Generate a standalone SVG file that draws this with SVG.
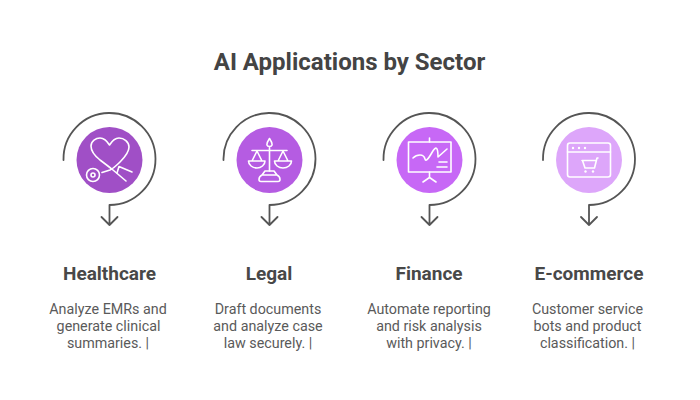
<svg xmlns="http://www.w3.org/2000/svg" width="700" height="400" viewBox="0 0 700 400">
<style>
text{font-family:Roboto,"Liberation Sans",sans-serif;text-anchor:middle}
.t{font-size:24px;font-weight:700;fill:#444}
.h{font-size:19px;font-weight:700;fill:#484848}
.d{font-size:14.300px;fill:#5a5a5a}
.c{fill:none;stroke:#555;stroke-width:1.800;stroke-linecap:round;stroke-linejoin:round}
.i{fill:none;stroke:#fff;stroke-width:1.600;stroke-linecap:round;stroke-linejoin:round}
</style>
<defs>
<g id="spiral"><path class="c" d="M-46 0A46 46 0 1 1 0 45V65M-8 57L0 65L8 57"/></g>
</defs>
<rect width="700" height="400" fill="#fff"/>
<text class="t" x="349.500" y="70">AI Applications by Sector</text>
<g id="connectors">
<use href="#spiral" x="109.500" y="160"/>
<use href="#spiral" x="269.500" y="160"/>
<use href="#spiral" x="429.500" y="160"/>
<use href="#spiral" x="589" y="160"/>
</g>
<g id="healthcare">
<circle cx="109.500" cy="160" r="33" fill="#A04FC6"/>
<path class="i" d="M126 181L113 170C108 166 104 163 100 160C95 156 91 151 91 146C91 141 96 138 100 138C104 138 107 141 109.500 145C112 141 115 138 119 138C124 138 129 142 129 147C129 153 124 158 120 162C117 165 114 168 110 170L102 172.500"/>
<path class="i" d="M117 173L119 166.500L132 172"/>
<circle class="i" cx="93" cy="175" r="6.500"/>
<circle class="i" cx="93" cy="175" r="2"/>
<text class="h" x="109.500" y="280">Healthcare</text>
<text class="d" x="108" y="314">Analyze EMRs and</text>
<text class="d" x="108.500" y="331">generate clinical</text>
<text class="d" x="108" y="348">summaries. |</text>
</g>
<g id="legal">
<circle cx="269.500" cy="160" r="33" fill="#B55CE2"/>
<path class="i" d="M269.500 147V171M252 150.500H287M269.500 138.500C267.500 141.500 266.500 143 267 145C267.500 147 271.500 147 272 145C272.500 143 271.500 141.500 269.500 138.500Z"/>
<path class="i" d="M257 151L252 161M257 151L262 161M283 151L278 161M283 151L288 161M248.500 161H265C265 165 261 168 257 168C252.500 168 248.500 165 248.500 161ZM274.500 161H291.500C291.500 165 287.500 168 283 168C278.500 168 274.500 165 274.500 161Z"/>
<path class="i" d="M265 171H274L277 175C279 176 280 178 280 179.500C280 181 279 181.500 278 181.500H261C260 181.500 259 181 259 179.500C259 178 260 176 262 175ZM262 175H277"/>
<text class="h" x="269" y="280">Legal</text>
<text class="d" x="268" y="314">Draft documents</text>
<text class="d" x="268" y="331">and analyze case</text>
<text class="d" x="268" y="348">law securely. |</text>
</g>
<g id="finance">
<circle cx="429.500" cy="160" r="33" fill="#C768F6"/>
<rect class="i" x="408.500" y="142" width="42.500" height="30"/>
<path class="i" d="M429.500 138V142M429.500 172V178M423 182L429.500 177.500L436 182M413 158Q416 155 420 155T425 159T432 152.500T438 157L447 149M439 162H447M437 167H447"/>
<text class="h" x="429" y="280">Finance</text>
<text class="d" x="429" y="314">Automate reporting</text>
<text class="d" x="429" y="331">and risk analysis</text>
<text class="d" x="429" y="348">with privacy. |</text>
</g>
<g id="ecommerce">
<circle cx="589" cy="160" r="33" fill="#DDA6FA"/>
<rect class="i" x="567.500" y="143" width="43" height="34" rx="2.500"/>
<path class="i" d="M567.500 152H610.500M582 160.500H595.500M582.500 160.500L585 168H594.500L597 158H598"/>
<circle cx="573" cy="148" r="1.200" fill="#fff"/>
<circle cx="579" cy="148" r="1.200" fill="#fff"/>
<circle cx="585" cy="148" r="1.200" fill="#fff"/>
<circle cx="585.500" cy="171.500" r="1.200" fill="#fff"/>
<circle cx="593" cy="171.500" r="1.200" fill="#fff"/>
<text class="h" x="589" y="280">E-commerce</text>
<text class="d" x="587.500" y="314">Customer service</text>
<text class="d" x="587.500" y="331">bots and product</text>
<text class="d" x="587.500" y="348">classification. |</text>
</g>
</svg>
